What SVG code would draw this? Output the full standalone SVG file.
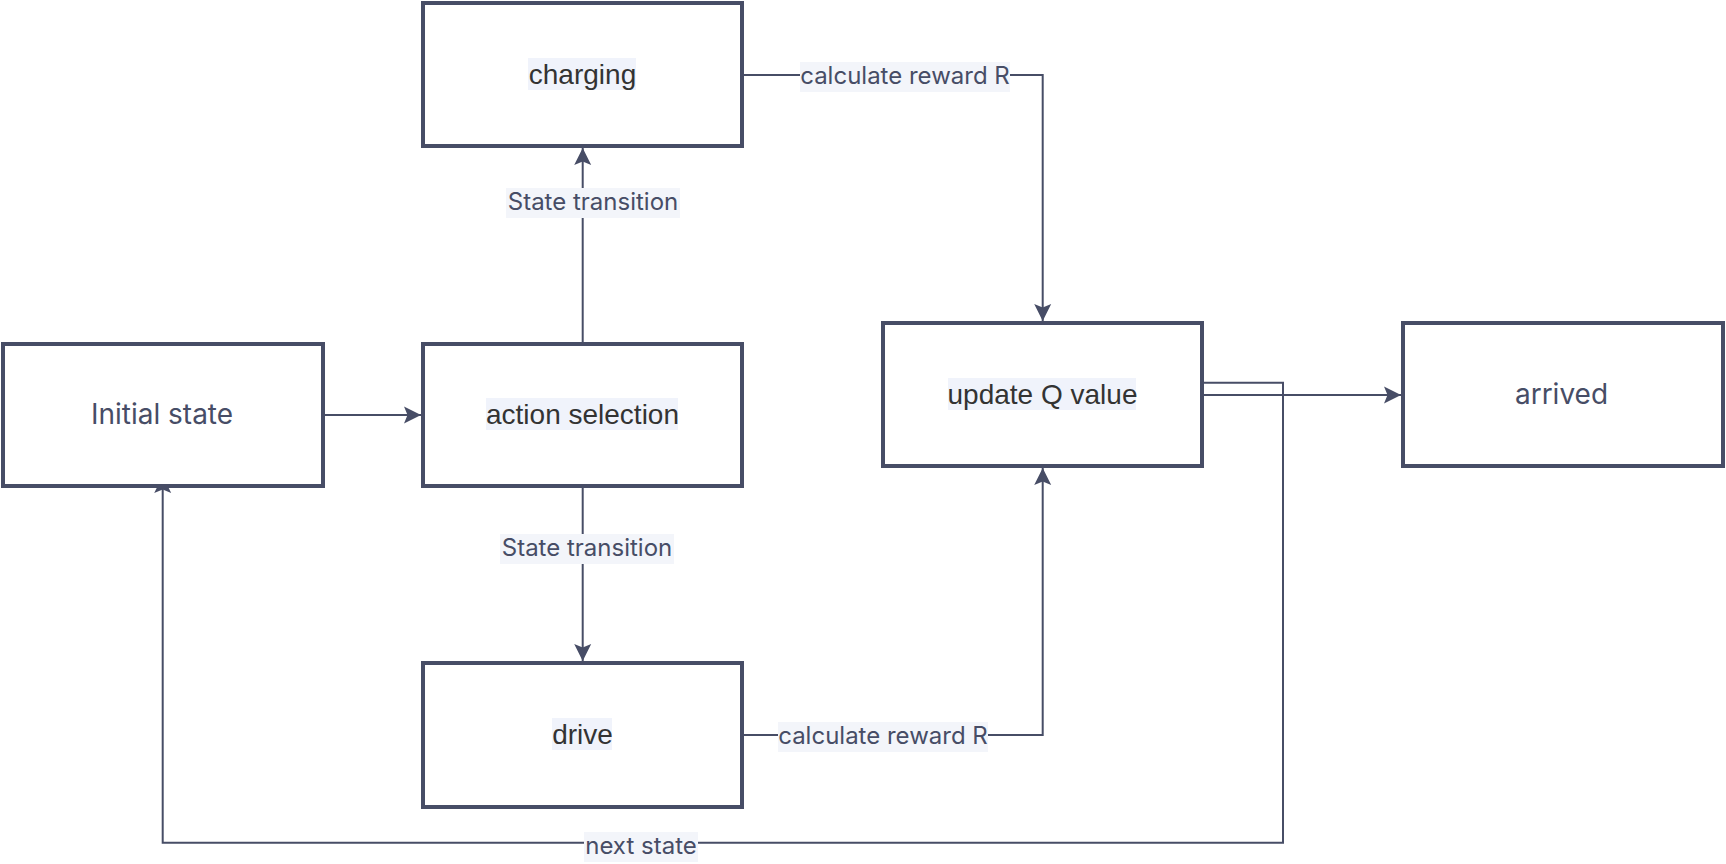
<svg xmlns="http://www.w3.org/2000/svg" width="1726" height="864" viewBox="0 0 1726 864">
<style>
.box{fill:#ffffff;stroke:#474d66;stroke-width:4}
.edge{fill:none;stroke:#474d66;stroke-width:2}
.nt{font-family:"Liberation Sans",Arial,sans-serif;font-size:28px;fill:#333333;text-anchor:middle}
.nt2{font-family:Inter,"Noto Sans",sans-serif;font-size:28px;fill:#474d66;text-anchor:middle}
.hl{fill:#f0f3fb}
.lb{fill:#f3f5fa}
.lt{font-family:Inter,"Noto Sans",sans-serif;font-size:24px;fill:#474d66;text-anchor:middle}
</style>
<defs>
<marker id="arr" markerUnits="userSpaceOnUse" markerWidth="20" markerHeight="18" viewBox="0 0 20 18" refX="17" refY="9" orient="auto">
<path d="M0,0.5 L17,9 L0,17.5 L3.5,9 Z" fill="#474d66"/>
</marker>
</defs>
<rect width="1726" height="864" fill="#ffffff"/>
<g id="connectors">
<path class="edge" d="M325,415 H421" marker-end="url(#arr)"/>
<path class="edge" d="M582.7,342 V148" marker-end="url(#arr)"/>
<path class="edge" d="M582.7,488 V661" marker-end="url(#arr)"/>
<path class="edge" d="M744,75 H1042.7 V321" marker-end="url(#arr)"/>
<path class="edge" d="M744,735 H1042.7 V468" marker-end="url(#arr)"/>
<path class="edge" d="M1204,395 H1401" marker-end="url(#arr)"/>
<path class="edge" d="M1204,382.7 H1283 V842.7 H162.7 V476" marker-end="url(#arr)"/>
<rect class="lb" x="506" y="188" width="174" height="30"/>
<text class="lt" x="593" y="210">State transition</text>
<rect class="lb" x="500" y="534" width="174" height="30"/>
<text class="lt" x="587" y="556">State transition</text>
<rect class="lb" x="800" y="62" width="210" height="30"/>
<text class="lt" x="905" y="83.5">calculate reward R</text>
<rect class="lb" x="778" y="722" width="210" height="30"/>
<text class="lt" x="883" y="744">calculate reward R</text>
<rect class="lb" x="584" y="832" width="114" height="30"/>
<text class="lt" x="641" y="854">next state</text>
</g>
<g id="charging">
<rect class="box" x="423" y="3" width="319" height="143"/>
<rect class="hl" x="528" y="58" width="108" height="32"/>
<text class="nt" x="582.5" y="83.5">charging</text>
</g>
<g id="initial-state">
<rect class="box" x="3" y="344" width="320" height="142"/>
<text class="nt2" x="162" y="424">Initial state</text>
</g>
<g id="action-selection">
<rect class="box" x="423" y="344" width="319" height="142"/>
<rect class="hl" x="486" y="398" width="192" height="32"/>
<text class="nt" x="582.5" y="424">action selection</text>
</g>
<g id="drive">
<rect class="box" x="423" y="663" width="319" height="144"/>
<rect class="hl" x="552" y="718" width="60" height="32"/>
<text class="nt" x="582.5" y="743.5">drive</text>
</g>
<g id="update-q-value">
<rect class="box" x="883" y="323" width="319" height="143"/>
<rect class="hl" x="948" y="378" width="188" height="32"/>
<text class="nt" x="1042.5" y="403.5">update Q value</text>
</g>
<g id="arrived">
<rect class="box" x="1403" y="323" width="320" height="143"/>
<text class="nt2" x="1561.5" y="404">arrived</text>
</g>
</svg>
